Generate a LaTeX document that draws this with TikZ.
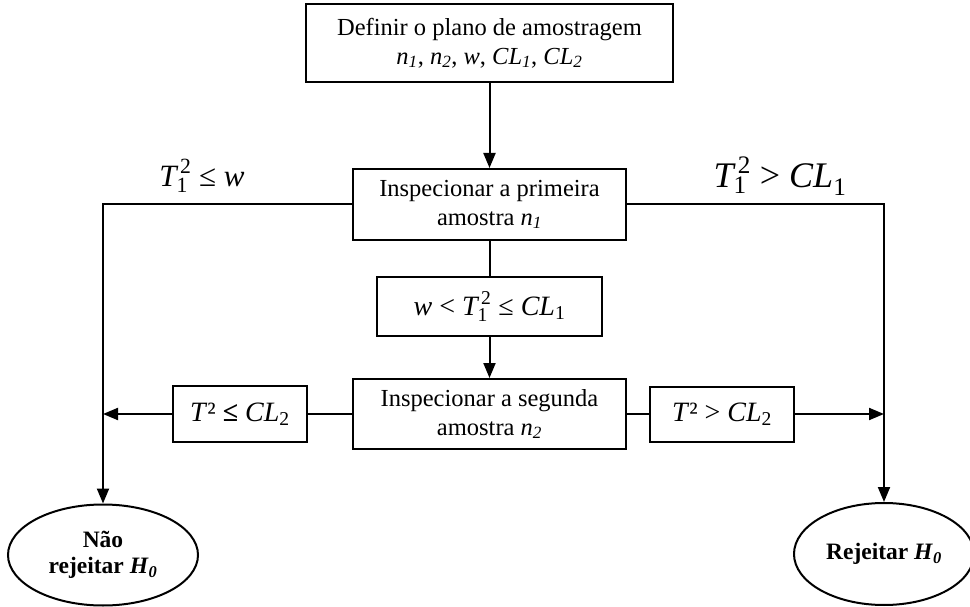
\documentclass[tikz,border=0pt]{standalone}
\usepackage{fontspec}
\setmainfont{Liberation Serif}
\usetikzlibrary{arrows.meta,shapes.geometric}
\newcommand{\Tone}{$\textit{T}_{\mathrm{1}}^{\,\mathrm{2}}$}
\begin{document}
\begin{tikzpicture}[x=1pt,y=-1pt,line width=2pt,
  box/.style={draw,rectangle,align=center,inner sep=0pt,font=\fontsize{24.5}{29}\selectfont},
  cbox/.style={draw,rectangle,align=center,inner sep=0pt,font=\fontsize{28}{30}\selectfont},
  ell/.style={draw,ellipse,align=center,inner sep=0pt,font=\fontsize{23.5}{26}\selectfont\bfseries},
  lab/.style={inner sep=0pt},
  arr/.style={-{Triangle[length=15pt,width=12pt]}}]
\useasboundingbox (0,0) rectangle (970,607);
\node[box,minimum width=367pt,minimum height=78pt] (b1) at (489.5,43)
  {Definir o plano de amostragem\\\textit{n}\textsubscript{\textit{1}}, \textit{n}\textsubscript{\textit{2}}, \textit{w}, \textit{CL}\textsubscript{\textit{1}}, \textit{CL}\textsubscript{\textit{2}}};
\node[box,minimum width=273pt,minimum height=71pt] (b2) at (489.5,204.5)
  {Inspecionar a primeira\\amostra \textit{n}\textsubscript{\textit{1}}};
\node[cbox,minimum width=225pt,minimum height=59pt] (b3) at (489.5,306.5)
  {\textit{w} < \Tone{} ≤ \textit{CL}\textsubscript{1}};
\node[box,minimum width=273pt,minimum height=70pt] (b4) at (489.5,414)
  {Inspecionar a segunda\\amostra \textit{n}\textsubscript{\textit{2}}};
\node[cbox,minimum width=134pt,minimum height=56pt] (lb) at (240,414)
  {\textit{T}² \textbf{≤} \textit{CL}\textsubscript{2}};
\node[cbox,minimum width=144pt,minimum height=55pt] (rb) at (722,414)
  {\textit{T}² > \textit{CL}\textsubscript{2}};
\node[ell,minimum width=190pt,minimum height=101pt] (eL) at (103,555)
  {Não\\rejeitar \textit{H}\textsubscript{\textit{0}}};
\node[ell,minimum width=180pt,minimum height=102pt] (eR) at (884,554)
  {Rejeitar \textit{H}\textsubscript{\textit{0}}};
\node[lab,font=\fontsize{31}{33}\selectfont] (l1) at (202,176) {\Tone{} ≤ \textit{w}};
\node[lab,font=\fontsize{36}{38}\selectfont] (l2) at (780,176) {\Tone{} > \textit{CL}\textsubscript{1}};
\coordinate (jl) at (103,414);
\coordinate (jr) at (884,414);
\draw[arr] (b1.south) -- (b2.north);
\draw[arr] (b2.west) -| (eL.north);
\draw[arr] (b2.east) -| (eR.north);
\draw (b2.south) -- (b3.north);
\draw[arr] (b3.south) -- (b4.north);
\draw (b4.west) -- (lb.east);
\draw[arr] (lb.west) -- (jl);
\draw (b4.east) -- (rb.west);
\draw[arr] (rb.east) -- (jr);
\end{tikzpicture}
\end{document}
